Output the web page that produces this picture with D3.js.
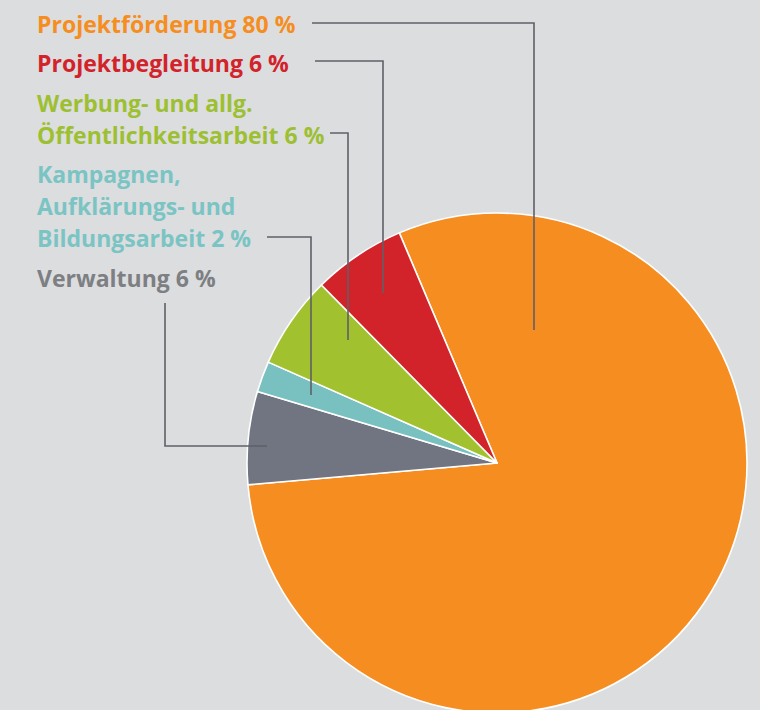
<!DOCTYPE html>
<html lang="de">
<head>
<meta charset="UTF-8">
<title>Mittelverwendung</title>
<script src="https://d3js.org/d3.v7.min.js"></script>
<style>
    html, body { margin: 0; padding: 0; background: #dcdddf; }
    svg { display: block; }
    text { font-family: "Open Sans", sans-serif; font-weight: 700; }
</style>
</head>
<body>
<script>

// data, in clockwise order starting at the top of the orange slice
const categories = ['Projektförderung', 'Verwaltung', 'Kampagnen, Aufklärungs- und Bildungsarbeit', 'Werbung- und allg. Öffentlichkeitsarbeit', 'Projektbegleitung'];
const shares = [80, 6, 2, 6, 6];
const colors = ['#f68d20', '#717582', '#79c0c0', '#a2c12f', '#d2232a'];
const labelColors = ['#f68d20', '#7d7f83', '#7ac4c4', '#9dc032', '#d2232a'];
// label text lines
const labelLines = [
    ['Projektförderung 80 %'],
    ['Verwaltung 6 %'],
    ['Kampagnen,', 'Aufklärungs- und', 'Bildungsarbeit 2 %'],
    ['Werbung- und allg.', 'Öffentlichkeitsarbeit 6 %'],
    ['Projektbegleitung 6 %']
];

const width = 760, height = 710;
const cx = 497, cy = 463, radius = 250;

const svg = d3.select('body').append('svg')
    .attr('width', width)
    .attr('height', height);

const pie = d3.pie()
    .sort(null)
    .value(d => d)
    .startAngle(-23 * Math.PI / 180)
    .endAngle(337 * Math.PI / 180);

const arc = d3.arc().innerRadius(0).outerRadius(radius);

svg.append('g')
    .attr('transform', `translate(${cx},${cy})`)
    .selectAll('path')
    .data(pie(shares))
    .join('path')
    .attr('d', arc)
    .attr('fill', (d, i) => colors[i])
    .attr('stroke', '#fff')
    .attr('stroke-width', 1.6)
    .attr('stroke-linejoin', 'round');

// labels in the left column
const labelX = 37;
const labelBaseline = [33, 287, 183, 112, 72];
const lineHeight = 32;

const labels = svg.append('g');
categories.forEach((c, i) => {
    const t = labels.append('text')
        .attr('x', labelX)
        .attr('y', labelBaseline[i])
        .attr('fill', labelColors[i])
        .style('font-size', '23px');
    labelLines[i].forEach((line, j) => {
        t.append('tspan')
            .attr('x', labelX)
            .attr('dy', j === 0 ? 0 : lineHeight)
            .text(line);
    });
});

// leader lines from label to slice
const leaders = [
    [[312, 23], [534, 23], [534, 330]],
    [[165, 303], [165, 446], [267, 446]],
    [[267, 237], [311, 237], [311, 395]],
    [[330, 133], [348, 133], [348, 340]],
    [[315, 61], [383, 61], [383, 293]]
];

svg.append('g')
    .selectAll('path')
    .data(leaders)
    .join('path')
    .attr('d', d3.line())
    .attr('fill', 'none')
    .attr('stroke', '#5f6068')
    .attr('stroke-width', 1.6);

</script>
</body>
</html>
